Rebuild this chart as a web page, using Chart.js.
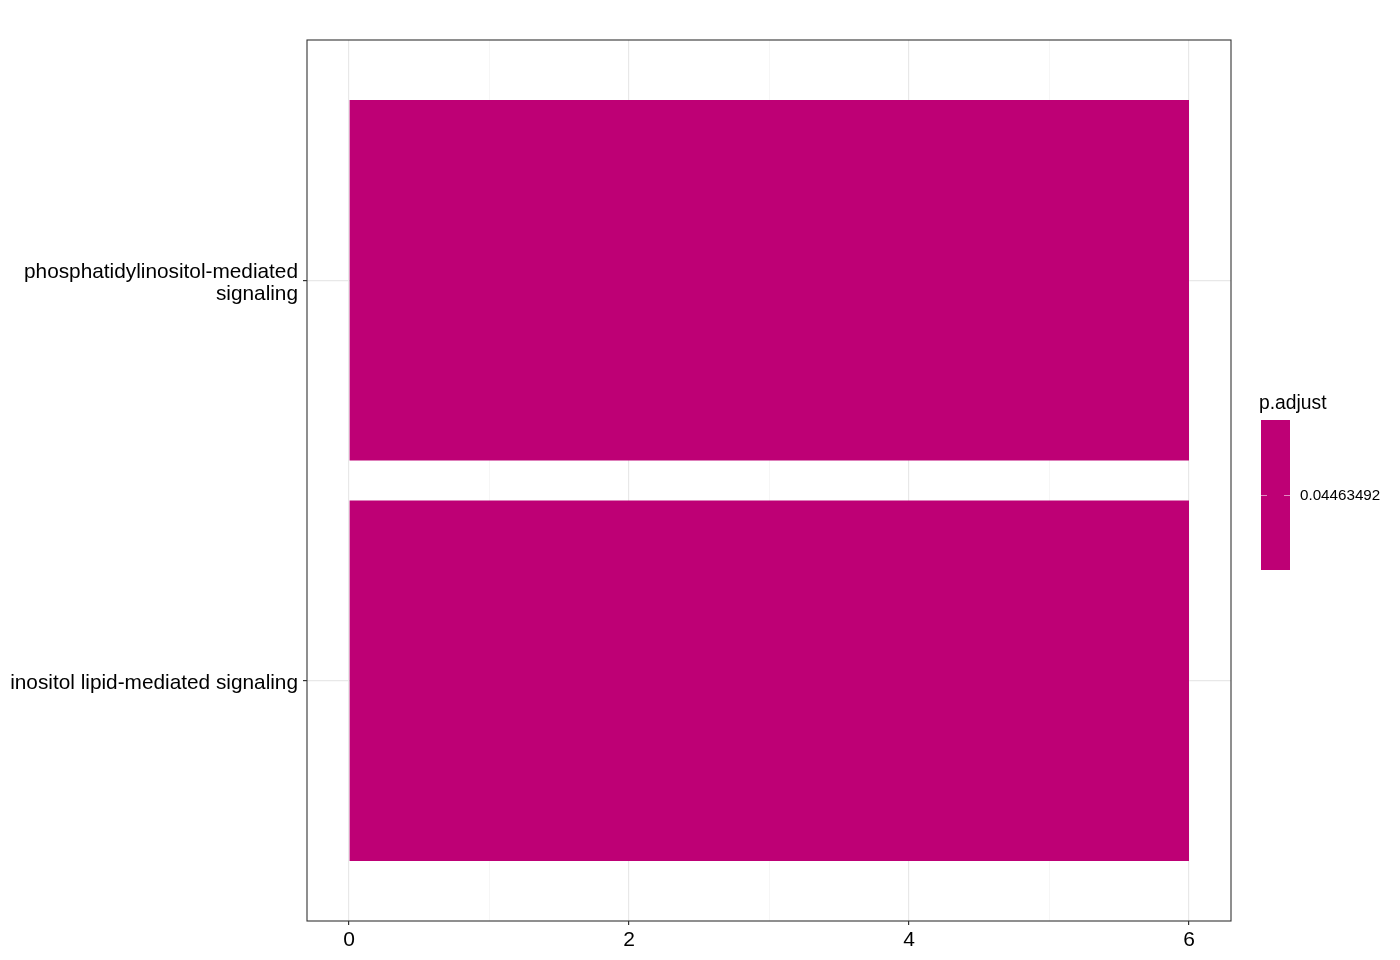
<!DOCTYPE html>
<html><head><meta charset="utf-8">
<script src="https://cdn.jsdelivr.net/npm/chart.js@4.4.1/dist/chart.umd.min.js"></script>
<style>html,body{margin:0;padding:0;background:#fff;}#wrap{width:1400px;height:960px;position:relative;}</style>
</head><body><div id="wrap"><canvas id="c" width="1400" height="960"></canvas></div>
<script>
const categories = [["phosphatidylinositol-mediated","signaling"], "inositol lipid-mediated signaling"];
const categoryPositions = [2, 1];
const counts = [6, 6];
const pAdjust = [0.04463492, 0.04463492];
const xTicks = [0, 2, 4, 6];
const legendTitle = "p.adjust";
const legendLabel = "0.04463492";
const barColor = "#BE0075";
const FONT = "'Liberation Sans', Arial, Helvetica, sans-serif";

const panelPlugin = {
  id: 'panel',
  afterDraw(chart) {
    const ctx = chart.ctx, a = chart.chartArea;
    ctx.save();
    ctx.strokeStyle = '#333333';
    ctx.lineWidth = 1.1;
    ctx.strokeRect(a.left, a.top, a.right - a.left, a.bottom - a.top);
    // legend
    ctx.fillStyle = '#000';
    ctx.font = "19.3px " + FONT;
    ctx.textAlign = 'left';
    ctx.textBaseline = 'alphabetic';
    ctx.fillText(legendTitle, 1259, 409);
    ctx.fillStyle = barColor;
    ctx.fillRect(1261, 420, 29, 150);
    ctx.strokeStyle = 'rgba(255,255,255,0.55)';
    ctx.lineWidth = 1;
    ctx.beginPath();
    ctx.moveTo(1261, 495.5); ctx.lineTo(1267, 495.5);
    ctx.moveTo(1284, 495.5); ctx.lineTo(1290, 495.5);
    ctx.stroke();
    ctx.fillStyle = '#000';
    ctx.font = "15.2px " + FONT;
    ctx.textBaseline = 'middle';
    ctx.fillText(legendLabel, 1300, 496);
    ctx.restore();
  }
};

new Chart(document.getElementById('c'), {
  type: 'bar',
  data: {
    datasets: [{
      data: counts.map((v, i) => ({ x: v, y: categoryPositions[i], p: pAdjust[i] })),
      backgroundColor: barColor,
      borderWidth: 0,
      barPercentage: 1,
      categoryPercentage: 0.9
    }]
  },
  options: {
    indexAxis: 'y',
    responsive: false,
    animation: false,
    layout: { padding: { left: 0, right: 169, top: 40, bottom: 0 } },
    plugins: { legend: { display: false }, tooltip: { enabled: false } },
    scales: {
      x: {
        type: 'linear', min: -0.3, max: 6.3, offset: false,
        afterBuildTicks: s => { s.ticks = [0,1,2,3,4,5,6].map(v => ({ value: v })); },
        afterFit: s => { s.height = 39; },
        border: { display: false },
        grid: {
          offset: false,
          color: c => (c.tick && c.tick.value % 2 === 0) ? '#E8E8E8' : '#F2F2F2',
          lineWidth: c => (c.tick && c.tick.value % 2 === 0) ? 1.2 : 0.7,
          tickColor: c => (c.tick && c.tick.value % 2 === 0) ? '#333333' : 'rgba(0,0,0,0)',
          tickLength: 4,
          drawTicks: true
        },
        ticks: {
          autoSkip: false, maxRotation: 0,
          callback: v => (xTicks.includes(v) ? String(v) : ''),
          color: '#000', padding: 3,
          font: { family: FONT, size: 21 }
        }
      },
      y: {
        type: 'linear', min: 0.4, max: 2.6, offset: false,
        afterBuildTicks: s => { s.ticks = categoryPositions.map(v => ({ value: v })); },
        afterFit: s => { s.width = 307; },
        border: { display: false },
        grid: { offset: false, color: '#E8E8E8', lineWidth: 1.2, tickColor: '#333333', tickLength: 4 },
        ticks: {
          autoSkip: false, labelOffset: 3,
          callback: v => { const i = categoryPositions.indexOf(v); return i >= 0 ? categories[i] : ''; },
          color: '#000', padding: 5,
          font: { family: FONT, size: 20.8, lineHeight: 1.08 }
        }
      }
    }
  },
  plugins: [panelPlugin]
});
</script></body></html>
